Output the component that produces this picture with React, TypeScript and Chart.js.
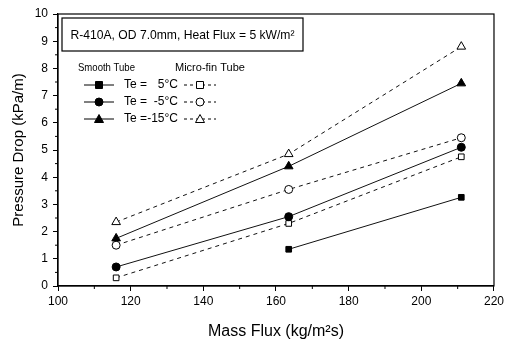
import React, { useEffect, useRef } from "react";
import { Chart, registerables } from "chart.js";

Chart.register(...registerables);

const massFlux = [116, 163.5, 211];
const smooth5 = [null, 1.35, 3.26];
const smoothM5 = [0.7, 2.55, 5.1];
const smoothM15 = [1.75, 4.4, 7.45];
const micro5 = [0.3, 2.3, 4.75];
const microM5 = [1.5, 3.55, 5.45];
const microM15 = [2.35, 4.85, 8.8];
const xTicks = [100, 120, 140, 160, 180, 200, 220];
const yTicks = [0, 1, 2, 3, 4, 5, 6, 7, 8, 9, 10];
const teLabels = ["5°C", "-5°C", "-15°C"];
const boxTitle = "R-410A, OD 7.0mm, Heat Flux = 5 kW/m²";

const FONT = "'Liberation Sans', Arial, sans-serif";

function pts(vals: (number | null)[]) {
  const out: { x: number; y: number }[] = [];
  vals.forEach((v, i) => {
    if (v !== null) out.push({ x: massFlux[i], y: v });
  });
  return out;
}

function drawMarker(ctx: CanvasRenderingContext2D, style: string, filled: boolean, x: number, y: number) {
  ctx.save();
  ctx.beginPath();
  ctx.lineWidth = 1;
  ctx.strokeStyle = "#000";
  ctx.fillStyle = filled ? "#000" : "#fff";
  if (style === "rect") {
    ctx.rect(x - 3.5, y - 3.5, 7, 7);
  } else if (style === "circle") {
    ctx.arc(x, y, 4, 0, Math.PI * 2);
  } else {
    ctx.moveTo(x, y - 4.5);
    ctx.lineTo(x + 4.5, y + 3.5);
    ctx.lineTo(x - 4.5, y + 3.5);
    ctx.closePath();
  }
  ctx.fill();
  ctx.stroke();
  ctx.restore();
}

function fitText(ctx: CanvasRenderingContext2D, text: string, cx: number, cy: number, maxW: number) {
  const w = ctx.measureText(text).width;
  const s = w > maxW ? maxW / w : 1;
  ctx.save();
  ctx.translate(cx, cy);
  ctx.scale(s, 1);
  ctx.fillText(text, 0, 0);
  ctx.restore();
}

const decorPlugin = {
  id: "decor",
  afterDraw(chart: any) {
    const { ctx, chartArea: a, scales } = chart;
    ctx.save();
    // frame
    ctx.strokeStyle = "#000";
    ctx.lineWidth = 1.2;
    ctx.strokeRect(a.left, a.top, a.right - a.left, a.bottom - a.top);
    // minor ticks
    ctx.lineWidth = 1;
    ctx.beginPath();
    for (let v = 110; v < 220; v += 20) {
      const px = scales.x.getPixelForValue(v);
      ctx.moveTo(px, a.bottom);
      ctx.lineTo(px, a.bottom + 3);
    }
    for (let v = 0.5; v < 10; v += 1) {
      const py = scales.y.getPixelForValue(v);
      ctx.moveTo(a.left, py);
      ctx.lineTo(a.left - 3, py);
    }
    ctx.stroke();

    // title box
    ctx.lineWidth = 1.2;
    ctx.strokeRect(62, 18, 241, 33);
    ctx.fillStyle = "#000";
    ctx.font = `13px ${FONT}`;
    ctx.textAlign = "center";
    ctx.textBaseline = "middle";
    fitText(ctx, boxTitle, 182.5, 35, 224);

    // legend
    ctx.font = `11px ${FONT}`;
    ctx.textAlign = "left";
    fitText(ctx, "Smooth Tube", 78, 68, 57);
    fitText(ctx, "Micro-fin Tube", 175, 68, 70);
    const styles = ["rect", "circle", "triangle"];
    const rows = [85, 102, 119];
    rows.forEach((ry, i) => {
      ctx.save();
      ctx.lineWidth = 1;
      ctx.strokeStyle = "#000";
      ctx.beginPath();
      ctx.moveTo(84, ry);
      ctx.lineTo(114, ry);
      ctx.stroke();
      ctx.setLineDash([3, 3]);
      ctx.beginPath();
      ctx.moveTo(184, ry);
      ctx.lineTo(216, ry);
      ctx.stroke();
      ctx.restore();
      drawMarker(ctx, styles[i], true, 99, ry);
      drawMarker(ctx, styles[i], false, 200, ry);
      ctx.fillStyle = "#000";
      ctx.font = `12px ${FONT}`;
      ctx.textAlign = "left";
      ctx.fillText("Te =", 124, ry);
      ctx.textAlign = "right";
      ctx.fillText(teLabels[i], 178, ry);
    });
    ctx.restore();
  },
};

export default function App() {
  const ref = useRef<HTMLCanvasElement | null>(null);
  useEffect(() => {
    if (!ref.current) return;
    const solid = (data: any, style: string) => ({
      data,
      borderColor: "#111",
      borderWidth: 1,
      pointStyle: style,
      pointRadius: style === "triangle" ? 5 : 4,
      pointBackgroundColor: "#000",
      pointBorderColor: "#000",
      pointBorderWidth: 1,
      showLine: true,
      fill: false,
    });
    const dashed = (data: any, style: string) => ({
      data,
      borderColor: "#111",
      borderWidth: 1,
      borderDash: [4, 4],
      pointStyle: style,
      pointRadius: style === "triangle" ? 5 : 4,
      pointBackgroundColor: "#fff",
      pointBorderColor: "#000",
      pointBorderWidth: 1,
      showLine: true,
      fill: false,
    });
    const chart = new Chart(ref.current, {
      type: "scatter",
      data: {
        datasets: [
          solid(pts(smooth5), "rect"),
          solid(pts(smoothM5), "circle"),
          solid(pts(smoothM15), "triangle"),
          dashed(pts(micro5), "rect"),
          dashed(pts(microM5), "circle"),
          dashed(pts(microM15), "triangle"),
        ] as any,
      },
      options: {
        animation: false,
        responsive: false,
        devicePixelRatio: 1,
        layout: { padding: { left: 0, top: 14, right: 10, bottom: 0 } },
        plugins: { legend: { display: false }, tooltip: { enabled: false } },
        scales: {
          x: {
            type: "linear",
            min: 100,
            max: 220,
            afterFit: (s: any) => {
              s.height = 58;
            },
            afterBuildTicks: (s: any) => {
              s.ticks = xTicks.map((v) => ({ value: v }));
            },
            ticks: { color: "#000", font: { family: FONT, size: 12 }, padding: 3, maxRotation: 0 },
            grid: { display: true, drawOnChartArea: false, drawTicks: true, tickLength: 5, color: "#000" },
            border: { display: true, color: "#000", width: 1.2 },
            title: {
              display: true,
              text: "Mass Flux (kg/m²s)",
              color: "#000",
              font: { family: FONT, size: 16 },
              padding: { top: 0, bottom: 3 },
            },
          },
          y: {
            type: "linear",
            min: 0,
            max: 10,
            afterFit: (s: any) => {
              s.width = 58;
            },
            afterBuildTicks: (s: any) => {
              s.ticks = yTicks.map((v) => ({ value: v }));
            },
            ticks: { color: "#000", font: { family: FONT, size: 12 }, padding: 5 },
            grid: { display: true, drawOnChartArea: false, drawTicks: true, tickLength: 5, color: "#000" },
            border: { display: true, color: "#000", width: 1.2 },
            title: {
              display: true,
              text: "Pressure Drop (kPa/m)",
              color: "#000",
              font: { family: FONT, size: 15 },
              padding: { top: 10, bottom: 0 },
            },
          },
        },
      },
      plugins: [decorPlugin],
    } as any);
    return () => chart.destroy();
  }, []);
  return (
    <div style={{ position: "fixed", left: 0, top: 0, width: 507, height: 344, background: "#fff" }}>
      <canvas ref={ref} width={507} height={344} style={{ display: "block" }} />
    </div>
  );
}
